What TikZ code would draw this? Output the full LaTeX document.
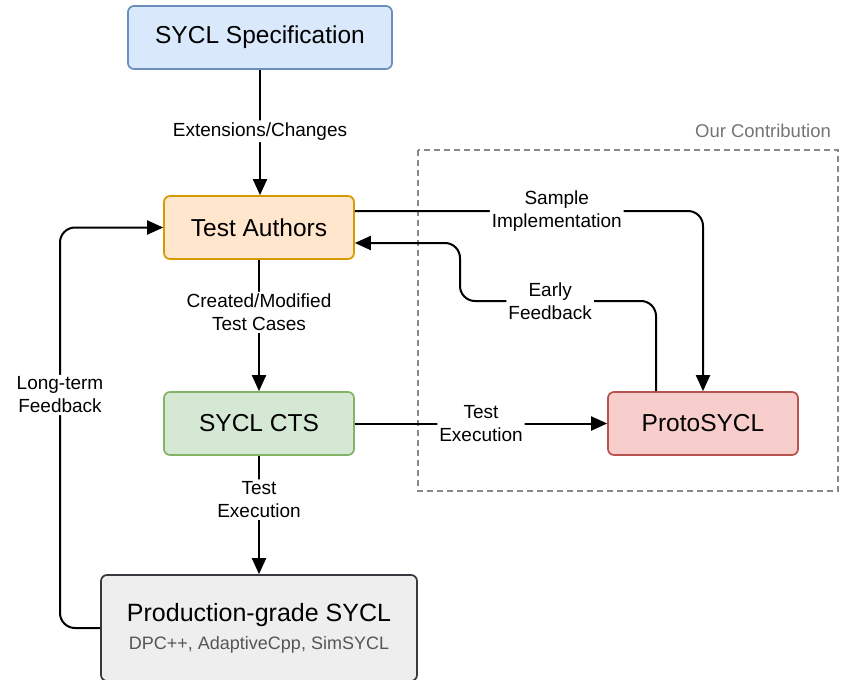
\documentclass[tikz,border=0pt]{standalone}
\usepackage{fontspec}
\setmainfont{Liberation Sans}
\usetikzlibrary{arrows.meta}
\definecolor{specfill}{HTML}{DAE8FC}\definecolor{specdraw}{HTML}{6C8EBF}
\definecolor{tafill}{HTML}{FFE6CC}\definecolor{tadraw}{HTML}{D79B00}
\definecolor{ctsfill}{HTML}{D5E8D4}\definecolor{ctsdraw}{HTML}{82B366}
\definecolor{psfill}{HTML}{F8CECC}\definecolor{psdraw}{HTML}{B85450}
\definecolor{pbfill}{HTML}{EEEEEE}\definecolor{pbdraw}{HTML}{36393D}
\definecolor{subgray}{HTML}{555555}
\definecolor{dashgray}{HTML}{888888}
\tikzset{
  box/.style={draw, line width=1.7pt, rounded corners=6pt, align=center,
    font=\fontsize{24.5}{28}\selectfont, minimum height=63pt, inner sep=0pt},
  conn/.style={line width=2pt, rounded corners=15pt, -{Triangle[length=16pt,width=14pt]}},
  lbl/.style={fill=white, align=center, inner sep=2pt, font=\fontsize{19}{23}\selectfont},
}
\begin{document}
\begin{tikzpicture}[x=1pt,y=-1pt]
\useasboundingbox (0,0) rectangle (841,680);
% dashed contribution area
\draw[dashgray, line width=1.5pt, dash pattern=on 6pt off 4pt] (418,150) rectangle (838,491);
\node[text=dashgray!85!black, font=\fontsize{18.5}{22}\selectfont] (oc) at (763,131) {Our Contribution};
% nodes
\node[box, fill=specfill, draw=specdraw, minimum width=264pt] (SP) at (260,37.5) {SYCL Specification};
\node[box, fill=tafill, draw=tadraw, minimum width=190pt] (TA) at (259,227.5) {Test Authors};
\node[box, fill=ctsfill, draw=ctsdraw, minimum width=190pt] (CTS) at (259,423.5) {SYCL CTS};
\node[box, fill=psfill, draw=psdraw, minimum width=190pt] (PS) at (703,423.5) {ProtoSYCL};
\node[box, fill=pbfill, draw=pbdraw, minimum width=316pt, minimum height=106pt] (PB) at (259,628)
  {\fontsize{25}{36}\selectfont Production-grade SYCL\\ {\fontsize{18}{22}\selectfont\color{subgray}DPC++, AdaptiveCpp, SimSYCL}};
% connectors
\draw[conn] (SP.south) -- node[lbl, pos=0.49] {Extensions/Changes} (SP.south |- TA.north);
\draw[conn] (TA.south) -- node[lbl, pos=0.4] {Created/Modified\\Test Cases} (CTS.north);
\draw[conn] (CTS.south) -- node[lbl, pos=0.37] {Test\\Execution} (CTS.south |- PB.north);
\draw[conn] (CTS.east) -- node[lbl, pos=0.5] {Test\\Execution} (PS.west);
\draw[conn] ([yshift=16.5pt]TA.east) -| node[lbl, pos=0.29] {Sample\\Implementation} (PS.north);
\coordinate (ef) at (460,301);
\draw[conn] ([xshift=-47pt]PS.north) |- node[lbl, pos=0.77] {Early\\Feedback} (ef) |- ([yshift=-15.5pt]TA.east);
\coordinate (lt) at (60,395);
\draw[conn] (PB.west) -| (lt) node[lbl] {Long-term\\Feedback} |- (TA.west);
\end{tikzpicture}
\end{document}
